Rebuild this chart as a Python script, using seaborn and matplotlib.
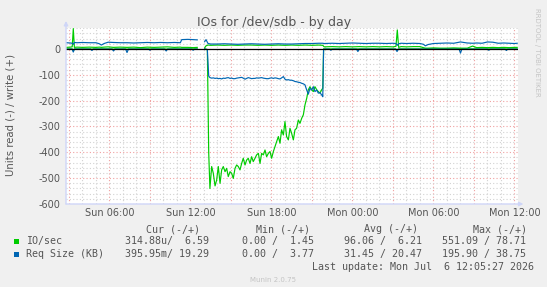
import numpy as np
import pandas as pd
import matplotlib
matplotlib.use("Agg")
import matplotlib.pyplot as plt
import matplotlib.dates as mdates
from matplotlib.ticker import MultipleLocator, FuncFormatter
from matplotlib.patches import Rectangle
import seaborn as sns

# hours since Sun 2026-07-05 00:00, nan marks the gap in the rrd
write_hours = [2.80, 3.10, 3.24, 3.32, 3.40, 3.60, 4.00, 4.50, 5.00, 5.25,
               5.40, 5.60, 5.90, 6.30, 6.80, 7.30, 7.80, 8.30, 8.80, 9.30,
               9.80, 10.30, 10.80, 11.25, 11.35, 11.80, 12.20, 12.50,
               12.75,
               13.05, 13.15, 13.30, 13.50, 14.00, 14.50, 15.00, 15.50, 16.00, 16.50,
               17.00, 17.50, 18.00, 18.50, 19.00, 19.50, 20.00, 20.50, 21.00, 21.50,
               21.80, 21.90, 22.50, 23.00, 23.50, 24.00, 24.50, 25.00, 25.50, 26.00,
               26.50, 27.00, 27.22, 27.32, 27.42, 27.60, 28.00, 28.50, 29.00, 29.25,
               29.40, 29.60, 30.00, 30.50, 31.00, 31.50, 32.00, 32.50, 32.90, 33.20,
               33.60, 34.00, 34.40, 34.80, 35.20, 35.60, 36.00, 36.20]
io_write = [6, 7, 8, 78.7, 6, 7, 6, 7, 6, 7,
            6, 7, 8, 6, 7, 6, 7, 5, 7, 6,
            7, 8, 6, 7, 6, 6, 5, 6,
            np.nan,
            4, 12, 15, 14, 15, 14, 15, 14, 15, 15,
            14, 15, 14, 15, 14, 15, 14, 15, 14, 15,
            14, 8, 9, 8, 9, 8, 9, 8, 9, 8,
            9, 8, 10, 73.5, 6, 9, 8, 9, 9, 5,
            3, 3, 4, 3, 3, 4, 3, 3, 11, 5,
            6, 5, 6, 5, 6, 5, 6, 6]
size_write = [24, 23, 22, 18, 25, 24, 25, 24, 24, 20,
              15, 21, 26, 25, 24, 24, 23, 24, 25, 24,
              25, 24, 25, 24, 36, 37, 36, 35,
              np.nan,
              28, 36, 21, 19, 19, 20, 19, 18, 19, 20,
              19, 18, 19, 20, 19, 19, 20, 21, 21, 22,
              22, 21, 22, 21, 22, 23, 22, 21, 22, 22,
              21, 22, 21, 14, 20, 22, 21, 22, 21, 18,
              12, 17, 21, 22, 23, 22, 27, 23, 22, 23,
              22, 27, 26, 22, 23, 22, 21, 22]

read_hours = [2.80, 3.24, 3.32, 3.40, 4.60, 4.70, 4.80, 6.20, 6.30, 6.40,
              7.20, 7.30, 7.40, 8.90, 9.00, 9.10, 10.10, 10.20, 10.30, 12.10,
              12.20, 12.30, 12.50,
              12.75,
              13.05, 13.25, 13.35,
              13.44, 13.57, 13.69, 13.82, 13.94, 14.06, 14.19, 14.31, 14.43, 14.56,
              14.68, 14.80, 14.93, 15.05, 15.17, 15.30, 15.42, 15.54, 15.67, 15.79,
              15.91, 16.04, 16.16, 16.28, 16.41, 16.53, 16.65, 16.78, 16.90, 17.03,
              17.15, 17.27, 17.40, 17.52, 17.64, 17.77, 17.89, 18.01, 18.14, 18.26,
              18.38, 18.51, 18.63, 18.75, 18.88, 19.00, 19.12, 19.25, 19.37, 19.49,
              19.62, 19.74, 19.86, 19.99, 20.11, 20.24, 20.36, 20.48, 20.61, 20.73,
              20.85, 20.98, 21.10, 21.22, 21.35, 21.47, 21.59, 21.72,
              21.80, 21.86,
              22.30, 22.40, 22.50, 23.50, 24.30, 24.40, 24.50, 25.50, 26.50, 27.20,
              27.30, 27.40, 28.50, 29.50, 30.50, 31.00, 31.90, 32.00, 32.10, 33.00,
              34.00, 34.10, 34.20, 35.30, 35.40, 35.50, 36.20]
io_read = [0, 0, 8, 0, 0, 1, 0, 0, 1, 0,
           0, 1, 0, 0, 0, 0, 0, 1, 0, 0,
           0, 0, 0,
           np.nan,
           0, 2, 400,
           540, 455, 481, 530, 507, 455, 520, 468, 455, 475,
           462, 494, 475, 481, 501, 462, 449, 455, 468, 443,
           423, 449, 430, 423, 443, 417, 436, 423, 410, 404,
           443, 404, 410, 391, 417, 404, 397, 423, 397, 378,
           359, 339, 365, 313, 333, 281, 339, 352, 307, 326,
           352, 313, 307, 275, 288, 268, 255, 217, 191, 158,
           146, 158, 165, 146, 158, 165, 171, 158,
           152, 0,
           0, 0, 0, 0, 0, 0, 0, 0, 0, 0,
           4, 0, 0, 0, 0, 0, 0, 0, 0, 0,
           0, 0, 0, 0, 0, 0, 0]
size_read = [1, 1, 12, 1, 1, 6, 1, 1, 8, 1,
             1, 14, 1, 1, 5, 1, 1, 8, 1, 1,
             5, 1, 1,
             np.nan,
             0, 3, 105,
             111, 113, 112, 114, 113, 115, 114, 116, 113, 114,
             112, 111, 114, 113, 115, 115, 113, 112, 111, 110,
             113, 117, 114, 111, 113, 115, 114, 114, 112, 113,
             112, 111, 113, 114, 115, 115, 113, 112, 114, 112,
             113, 115, 116, 112, 107, 117, 120, 119, 121, 121,
             123, 126, 127, 129, 130, 133, 135, 139, 159, 175,
             152, 159, 146, 165, 159, 171, 169, 178,
             185, 1,
             1, 5, 1, 1, 1, 10, 1, 1, 1, 1,
             10, 1, 1, 1, 1, 1, 1, 16, 1, 1,
             1, 5, 1, 1, 6, 1, 1]

START = pd.Timestamp("2026-07-05 00:00")
GREEN = "#00CC00"
BLUE = "#0066B3"
FONT = "#555555"
W, H = 547, 287


def frame(hours, values, name, sign):
    d = pd.DataFrame({"hour": hours, "value": values})
    d["segment"] = d["value"].isna().cumsum()
    d = d.dropna().copy()
    d["value"] = d["value"] * sign
    d["time"] = START + pd.to_timedelta(d["hour"], unit="h")
    d["series"] = name
    return d


df = pd.concat([
    frame(read_hours, io_read, "io_read", -1),
    frame(write_hours, io_write, "io_write", 1),
    frame(read_hours, size_read, "size_read", -1),
    frame(write_hours, size_write, "size_write", 1),
])

plt.rcParams["axes.unicode_minus"] = False
plt.rcParams["font.family"] = "DejaVu Sans"

fig = plt.figure(figsize=(W / 100, H / 100), dpi=100, facecolor="#F0F0F0")
ax = fig.add_axes([66 / W, 1 - 204 / H, 452 / W, 176 / H])
ax.set_facecolor("white")

sns.lineplot(data=df, x="time", y="value", hue="series", units="segment",
             estimator=None, sort=False, legend=False, linewidth=0.85, ax=ax,
             hue_order=["io_read", "io_write", "size_read", "size_write"],
             palette={"io_read": GREEN, "io_write": GREEN,
                      "size_read": BLUE, "size_write": BLUE})
ax.axhline(0, color="black", linewidth=0.9, zorder=3)

ax.set_xlim(START + pd.Timedelta(hours=2.78), START + pd.Timedelta(hours=36.26))
ax.set_ylim(-600, 81)

ax.xaxis.set_major_locator(mdates.HourLocator(byhour=range(0, 24, 3)))
ax.xaxis.set_minor_locator(mdates.HourLocator(byhour=range(24)))


def hour_label(v, pos):
    t = mdates.num2date(v)
    return t.strftime("%a %H:%M") if t.hour % 6 == 0 else ""


ax.xaxis.set_major_formatter(FuncFormatter(hour_label))
ax.yaxis.set_major_locator(MultipleLocator(100))
ax.yaxis.set_minor_locator(MultipleLocator(20))

ax.grid(which="major", color="#f0a0a0", linestyle=(0, (1, 2)), linewidth=0.8)
ax.grid(which="minor", color="#d2d2d2", linestyle=(0, (1, 2)), linewidth=0.8)
ax.set_axisbelow(True)
ax.tick_params(which="both", length=0, colors=FONT, labelsize=7)
ax.tick_params(axis="y", pad=4.3)
ax.tick_params(axis="x", pad=3)
ax.set_xlabel("")
ax.set_ylabel("")
for s in ax.spines.values():
    s.set_visible(False)

arrow = dict(arrowstyle="-|>", color="#CFD6F8", lw=1, mutation_scale=6,
             shrinkA=0, shrinkB=0)
ax.annotate("", xy=(0, 1.04), xytext=(0, 0), xycoords="axes fraction",
            arrowprops=arrow)
ax.annotate("", xy=(1.012, 0), xytext=(0, 0), xycoords="axes fraction",
            arrowprops=arrow)


def px(x, y):
    return x / W, 1 - y / H


fig.text(*px(274, 26), "IOs for /dev/sdb - by day", ha="center", va="baseline",
         fontsize=9, color=FONT)
fig.text(*px(11, 115), "Units read (-) / write (+)", rotation=90, ha="center",
         va="center", fontsize=7.3, color=FONT)
fig.text(*px(537, 52), "RRDTOOL / TOBI OETIKER", rotation=270, ha="center",
         va="center", fontsize=5, color="#c4c4c4")
fig.text(*px(273, 280), "Munin 2.0.75", ha="center", va="center",
         fontsize=5, color="#c4c4c4")

mono = dict(family="DejaVu Sans Mono", fontsize=7.2, color=FONT, va="center")
headers = ["Cur (-/+)", "Min (-/+)", "Avg (-/+)", "Max (-/+)"]
header_x = [146.5, 255.8, 364, 472.8]
value_x = [125, 242.5, 343.7, 442]
rows = [
    ("IO/sec", GREEN, ["314.88u/  6.59", "0.00 /  1.45", "96.06 /  6.21", "551.09 / 78.71"]),
    ("Req Size (KB)", BLUE, ["395.95m/ 19.29", "0.00 /  3.77", "31.45 / 20.47", "195.90 / 38.75"]),
]
for hx, h in zip(header_x, headers):
    fig.text(*px(hx, 229), h, **mono)
for (label, color, vals), y in zip(rows, [241.4, 254.3]):
    fig.patches.append(Rectangle(px(14, y + 2.6), 5.2 / W, 5.2 / H,
                                 transform=fig.transFigure, facecolor=color,
                                 edgecolor="none"))
    fig.text(*px(26, y), label, **mono)
    for vx, v in zip(value_x, vals):
        fig.text(*px(vx, y), v, **mono)
fig.text(*px(311.6, 267.2), "Last update: Mon Jul  6 12:05:27 2026", **mono)

fig.savefig("out.png", dpi=100, facecolor=fig.get_facecolor())
